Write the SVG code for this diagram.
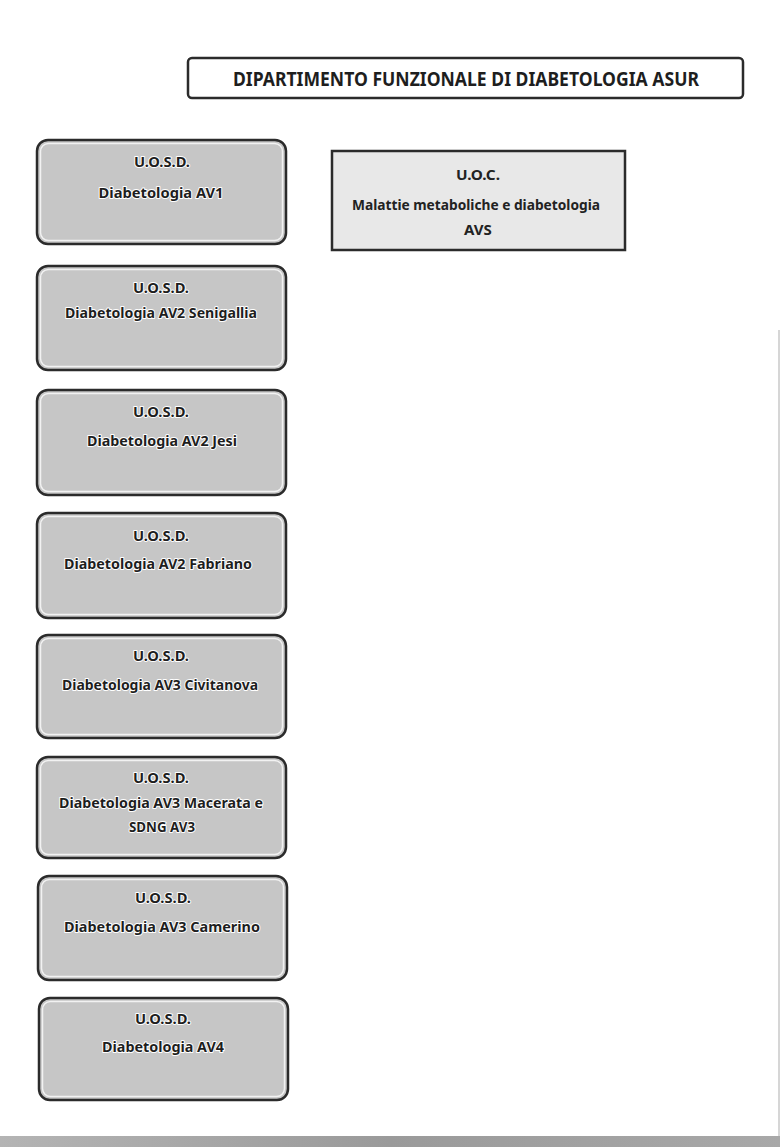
<svg xmlns="http://www.w3.org/2000/svg" width="780" height="1147" viewBox="0 0 780 1147">
<defs>
<linearGradient id="band" x1="0" y1="0" x2="1" y2="0">
<stop offset="0" stop-color="#b4b4b4"/>
<stop offset="0.5" stop-color="#9a9a9a"/>
<stop offset="1" stop-color="#a8a8a8"/>
</linearGradient>
</defs>
<style>
.unit { fill: #c6c6c6; stroke: #2b2b2b; stroke-width: 2.5; }
.inner { fill: none; stroke: #f2f2f2; stroke-width: 1.5; }
.t { font-family: "Noto Sans", "Open Sans", "Liberation Sans", sans-serif; font-weight: bold; font-size: 15px; fill: #1e1e1e; text-anchor: middle; stroke: #ffffff; stroke-width: 2; paint-order: stroke; stroke-linejoin: round; }
.h { font-family: "Noto Sans", "Open Sans", "Liberation Sans", sans-serif; font-weight: bold; font-size: 19px; fill: #1e1e1e; text-anchor: middle; }
.r { font-family: "Noto Sans", "Open Sans", "Liberation Sans", sans-serif; font-weight: bold; font-size: 15px; fill: #222222; text-anchor: middle; }
</style>
<rect x="0" y="0" width="780" height="1147" fill="#ffffff"/>
<rect x="0" y="1136" width="780" height="11" fill="url(#band)"/>
<line x1="779" y1="330" x2="779" y2="1136" stroke="#c8c8c8" stroke-width="1.5"/>

<g id="title">
<rect x="188" y="58" width="555" height="40" rx="4" fill="#ffffff" stroke="#2b2b2b" stroke-width="2.5"/>
<text class="h" x="466" y="86" textLength="466" lengthAdjust="spacingAndGlyphs">DIPARTIMENTO FUNZIONALE DI DIABETOLOGIA ASUR</text>
</g>

<g id="uoc">
<rect x="332" y="151" width="293" height="99" fill="#e8e8e8" stroke="#2b2b2b" stroke-width="2.5"/>
<text class="r" x="478" y="180" textLength="44" lengthAdjust="spacingAndGlyphs">U.O.C.</text>
<text class="r" x="476" y="210" textLength="248" lengthAdjust="spacingAndGlyphs">Malattie metaboliche e diabetologia</text>
<text class="r" x="478" y="235">AVS</text>
</g>

<g id="uosd1">
<rect class="unit" x="37" y="140" width="249" height="104" rx="11"/>
<rect class="inner" x="40.5" y="143.5" width="242" height="97" rx="8"/>
<text class="t" x="162" y="167" textLength="56" lengthAdjust="spacingAndGlyphs">U.O.S.D.</text>
<text class="t" x="161" y="198" textLength="125" lengthAdjust="spacingAndGlyphs">Diabetologia AV1</text>
</g>

<g id="uosd2">
<rect class="unit" x="37" y="266" width="249" height="104" rx="11"/>
<rect class="inner" x="40.5" y="269.5" width="242" height="97" rx="8"/>
<text class="t" x="161" y="293" textLength="56" lengthAdjust="spacingAndGlyphs">U.O.S.D.</text>
<text class="t" x="161" y="318" textLength="192" lengthAdjust="spacingAndGlyphs">Diabetologia AV2 Senigallia</text>
</g>

<g id="uosd3">
<rect class="unit" x="37" y="390" width="249" height="105" rx="11"/>
<rect class="inner" x="40.5" y="393.5" width="242" height="98" rx="8"/>
<text class="t" x="161" y="417" textLength="56" lengthAdjust="spacingAndGlyphs">U.O.S.D.</text>
<text class="t" x="162" y="446" textLength="150" lengthAdjust="spacingAndGlyphs">Diabetologia AV2 Jesi</text>
</g>

<g id="uosd4">
<rect class="unit" x="37" y="513" width="249" height="105" rx="11"/>
<rect class="inner" x="40.5" y="516.5" width="242" height="98" rx="8"/>
<text class="t" x="161" y="541" textLength="56" lengthAdjust="spacingAndGlyphs">U.O.S.D.</text>
<text class="t" x="158" y="569" textLength="188" lengthAdjust="spacingAndGlyphs">Diabetologia AV2 Fabriano</text>
</g>

<g id="uosd5">
<rect class="unit" x="37" y="635" width="249" height="103" rx="11"/>
<rect class="inner" x="40.5" y="638.5" width="242" height="96" rx="8"/>
<text class="t" x="161" y="661" textLength="56" lengthAdjust="spacingAndGlyphs">U.O.S.D.</text>
<text class="t" x="160" y="690" textLength="196" lengthAdjust="spacingAndGlyphs">Diabetologia AV3 Civitanova</text>
</g>

<g id="uosd6">
<rect class="unit" x="37" y="757" width="249" height="101" rx="11"/>
<rect class="inner" x="40.5" y="760.5" width="242" height="94" rx="8"/>
<text class="t" x="161" y="783" textLength="56" lengthAdjust="spacingAndGlyphs">U.O.S.D.</text>
<text class="t" x="161" y="808" textLength="204" lengthAdjust="spacingAndGlyphs">Diabetologia AV3 Macerata e</text>
<text class="t" x="162" y="832" textLength="66" lengthAdjust="spacingAndGlyphs">SDNG AV3</text>
</g>

<g id="uosd7">
<rect class="unit" x="38" y="876" width="249" height="104" rx="11"/>
<rect class="inner" x="41.5" y="879.5" width="242" height="97" rx="8"/>
<text class="t" x="163" y="903" textLength="56" lengthAdjust="spacingAndGlyphs">U.O.S.D.</text>
<text class="t" x="162" y="932" textLength="196" lengthAdjust="spacingAndGlyphs">Diabetologia AV3 Camerino</text>
</g>

<g id="uosd8">
<rect class="unit" x="39" y="998" width="249" height="102" rx="11"/>
<rect class="inner" x="42.5" y="1001.5" width="242" height="95" rx="8"/>
<text class="t" x="163" y="1024" textLength="56" lengthAdjust="spacingAndGlyphs">U.O.S.D.</text>
<text class="t" x="163" y="1052" textLength="122" lengthAdjust="spacingAndGlyphs">Diabetologia AV4</text>
</g>

<g id="connectors"></g>
</svg>
